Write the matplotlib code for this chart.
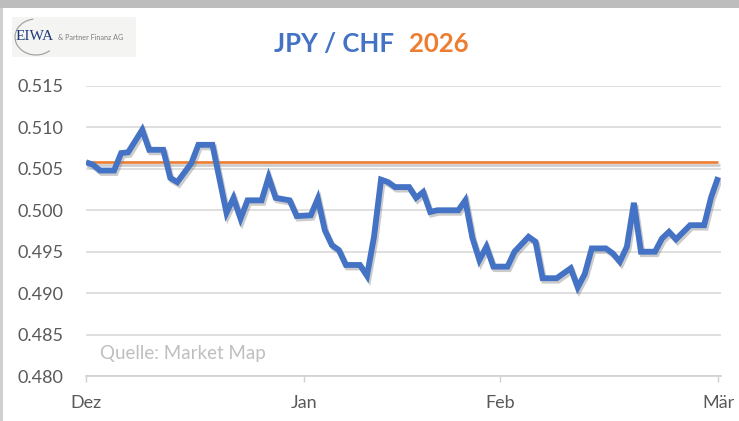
import matplotlib
matplotlib.use("Agg")
import matplotlib.pyplot as plt
import matplotlib.patheffects as pe
from matplotlib.patches import Rectangle, Arc

# Days since 1 Dec 2025
days = [0, 1, 2, 4, 5, 6, 8, 9, 11, 12, 13, 15, 16, 18, 20, 21, 22, 23, 25, 26,
        27, 29, 30, 32, 33, 34, 35, 36, 37, 39, 40, 41, 42, 43, 44, 46, 47, 48, 49, 50,
        53, 54, 55, 56, 57, 58, 60, 61, 63, 64, 65, 67, 69, 70, 71, 72, 74, 75, 76, 77,
        78, 79, 81, 82, 83, 84, 86, 88, 89, 90]
rate = [0.5058, 0.5055, 0.5048, 0.5048, 0.5069, 0.5070, 0.5097, 0.5073, 0.5073, 0.5039,
        0.5034, 0.5057, 0.5079, 0.5079, 0.4997, 0.5015, 0.4990, 0.5012, 0.5012, 0.5040,
        0.5015, 0.5012, 0.4993, 0.4994, 0.5014, 0.4976, 0.4958, 0.4952, 0.4934, 0.4934,
        0.4921, 0.4968, 0.5037, 0.5034, 0.5028, 0.5028, 0.5015, 0.5022, 0.4998, 0.5000,
        0.5000, 0.5012, 0.4967, 0.4940, 0.4956, 0.4932, 0.4932, 0.4950, 0.4968, 0.4962,
        0.4918, 0.4918, 0.4930, 0.4907, 0.4923, 0.4954, 0.4954, 0.4948, 0.4938, 0.4956,
        0.5009, 0.4950, 0.4950, 0.4966, 0.4974, 0.4965, 0.4982, 0.4982, 0.5016, 0.5040]
start_level = 0.5058

month_ticks = [0, 31, 59, 90]
month_labels = ["Dez", "Jan", "Feb", "Mär"]
y_ticks = [0.480, 0.485, 0.490, 0.495, 0.500, 0.505, 0.510, 0.515]

BLUE = "#4472C4"
ORANGE = "#ED7D31"
GRAY_TXT = "#595959"
FONT = "Lato"

W, H = 739, 421
fig = plt.figure(figsize=(W / 100, H / 100), dpi=100)
fig.patch.set_facecolor("white")

# frame decorations
fig.add_artist(Rectangle((0, 1 - 8 / H), 1, 8 / H, transform=fig.transFigure,
                         facecolor="#BDBDBD", edgecolor="none", zorder=0))
fig.add_artist(Rectangle((0, 0), 3 / W, 1 - 8 / H, transform=fig.transFigure,
                         facecolor="#D0D0D0", edgecolor="none", zorder=0))

ax = fig.add_axes([86 / W, (H - 376) / H, (721 - 86) / W, 290 / H])
ax.set_xlim(0, 90.4)
ax.set_ylim(0.480, 0.515)

ax.set_yticks(y_ticks)
ax.set_yticklabels([f"{v:.3f}" for v in y_ticks])
ax.set_xticks(month_ticks)
ax.set_xticklabels(month_labels)

ax.grid(axis="y", color="#D9D9D9", linewidth=1.2)
ax.set_axisbelow(True)
for s in ["top", "right", "left"]:
    ax.spines[s].set_visible(False)
ax.spines["bottom"].set_color("#D0D0D0")
ax.spines["bottom"].set_linewidth(1.2)
ax.tick_params(axis="y", length=0, pad=16, labelsize=13, labelcolor=GRAY_TXT)
ax.tick_params(axis="x", length=4, width=1, color="#D0D0D0", pad=10,
               labelsize=13, labelcolor=GRAY_TXT)
for lab in ax.get_xticklabels() + ax.get_yticklabels():
    lab.set_fontfamily(FONT)

shadow = [pe.SimpleLineShadow(offset=(1.2, -1.8), shadow_color="#7F7F7F", alpha=0.4),
          pe.Normal()]
ax.plot([days[0], days[-1]], [start_level, start_level], color=ORANGE, lw=1.9,
        solid_capstyle="butt", path_effects=shadow, zorder=3)
ax.plot(days, rate, color=BLUE, lw=4.2, solid_joinstyle="miter",
        solid_capstyle="butt", path_effects=shadow, zorder=4)

ax.text(0.022, 0.078, "Quelle: Market Map", transform=ax.transAxes,
        fontsize=13.5, color="#BFBFBF", fontfamily=FONT, va="center", ha="left")

# title
fig.text(394 / W, 1 - 44 / H, "JPY / CHF", color=BLUE, fontsize=18.5, fontweight="bold",
         fontfamily=FONT, ha="right", va="center")
fig.text(409 / W, 1 - 44 / H, "2026", color=ORANGE, fontsize=18.5, fontweight="bold",
         fontfamily=FONT, ha="left", va="center")

# logo
fig.add_artist(Rectangle((12 / W, 1 - 57 / H), 124 / W, 40 / H, transform=fig.transFigure,
                         facecolor="#F4F4F2", edgecolor="none", zorder=1))
fig.add_artist(Arc((36 / W, 1 - 37 / H), 42 / W, 36 / H, theta1=95, theta2=300,
                   transform=fig.transFigure, color="#9A9A9A", lw=0.8, zorder=2))
fig.text(16 / W, 1 - 37 / H, "EIWA", color="#1F3A7A", fontsize=11,
         fontfamily="Liberation Serif", ha="left", va="center", zorder=3)
fig.text(58 / W, 1 - 37 / H, "& Partner Finanz AG", color="#7F7F7F", fontsize=5.2,
         fontfamily=FONT, ha="left", va="center", zorder=3)

fig.savefig("out.png", dpi=100, facecolor="white")
